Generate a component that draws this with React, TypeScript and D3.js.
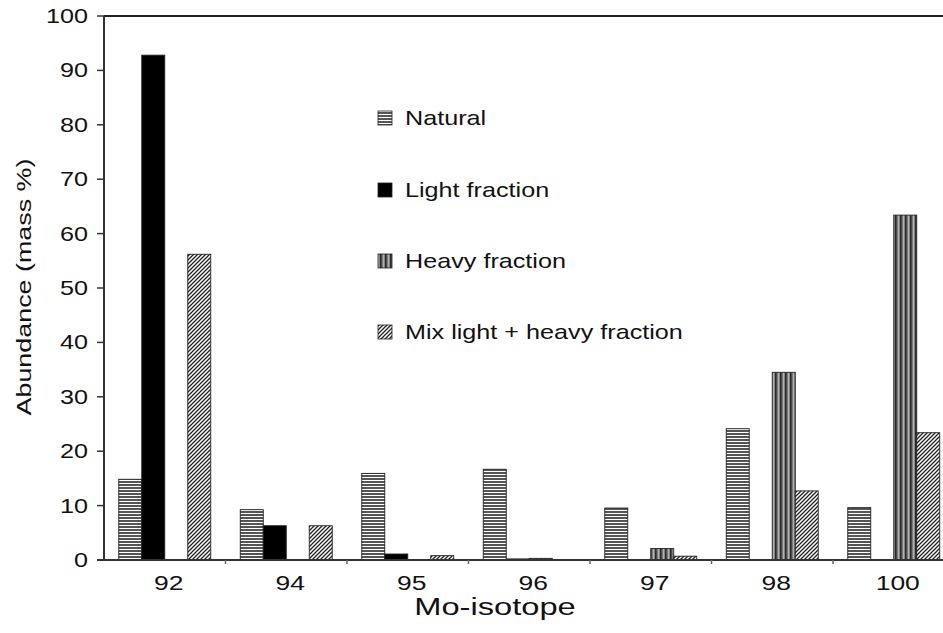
import React from "react";
import { scaleBand, scaleLinear, range } from "d3";

const isotopes = ["92", "94", "95", "96", "97", "98", "100"];
const seriesNames = ["Natural", "Light fraction", "Heavy fraction", "Mix light + heavy fraction"];
const natural = [14.84, 9.25, 15.92, 16.68, 9.55, 24.13, 9.63];
const light = [92.8, 6.3, 1.1, 0.2, 0, 0, 0];
const heavy = [0, 0, 0, 0.3, 2.1, 34.5, 63.4];
const mix = [56.2, 6.3, 0.8, 0.1, 0.7, 12.7, 23.4];
const yTicks = [0, 10, 20, 30, 40, 50, 60, 70, 80, 90, 100];

const fills = ["url(#natural)", "#000", "url(#heavy)", "url(#mix)"];
const font = "'Liberation Sans', Arial, sans-serif";
const sx = 1.26; // glyphs in the reference are wide

const App = () => {
  const width = 943;
  const height = 633;
  const left = 104;
  const top = 16;
  const bottom = 560;

  const values = [natural, light, heavy, mix];

  const x = scaleBand<string>()
    .domain(isotopes)
    .range([left, 954.5])
    .paddingInner(0.243)
    .paddingOuter(0.1215);

  const xs = scaleBand<string>()
    .domain(seriesNames)
    .range([0, x.bandwidth()]);

  const y = scaleLinear().domain([0, 100]).range([bottom, top]);

  const step = x.step();
  const bounds = range(0, isotopes.length + 1).map((i) => left + i * step);

  const bars = isotopes.map((iso, i) => (
    <g key={iso}>
      {seriesNames.map((s, j) => {
        const v = values[j][i];
        if (v <= 0) return null;
        return (
          <rect
            key={s}
            x={(x(iso) as number) + (xs(s) as number)}
            y={y(v)}
            width={xs.bandwidth()}
            height={bottom - y(v)}
            fill={fills[j]}
            stroke="#222"
            strokeWidth={0.9}
          />
        );
      })}
    </g>
  ));

  const legendY = [118, 190, 261, 332];

  return (
    <svg
      width={width}
      height={height}
      viewBox={`0 0 ${width} ${height}`}
      style={{ position: "absolute", left: 0, top: 0, background: "#fff" }}
      fontFamily={font}
    >
      <defs>
        <pattern id="natural" patternUnits="userSpaceOnUse" width={4} height={3}>
          <rect width={4} height={3} fill="#555" />
          <rect y={0} width={4} height={1} fill="#fff" />
        </pattern>
        <pattern id="heavy" patternUnits="userSpaceOnUse" width={5} height={4}>
          <rect width={5} height={4} fill="#7a7a7a" />
          <rect x={0} width={1.6} height={4} fill="#2a2a2a" />
          <rect x={3.2} width={1} height={4} fill="#bdbdbd" />
        </pattern>
        <pattern id="mix" patternUnits="userSpaceOnUse" width={4} height={4}>
          <rect width={4} height={4} fill="#fff" />
          <path d="M-1,1 l2,-2 M0,4 l4,-4 M3,5 l2,-2" stroke="#222" strokeWidth={1.3} />
        </pattern>
      </defs>

      {/* frame */}
      <line x1={left} x2={width} y1={top} y2={top} stroke="#222" strokeWidth={2} />
      <line x1={left} x2={left} y1={top} y2={bottom} stroke="#333" strokeWidth={2} />

      {bars}

      <line x1={97} x2={width} y1={bottom} y2={bottom} stroke="#333" strokeWidth={2} />

      {/* y ticks */}
      {yTicks.map((t) => (
        <g key={t}>
          <line x1={97} x2={left} y1={y(t)} y2={y(t)} stroke="#333" strokeWidth={1.5} />
          <text
            transform={`translate(88,${y(t)}) scale(${sx},1)`}
            textAnchor="end"
            dominantBaseline="central"
            fontSize={20}
            fill="#111"
          >
            {t}
          </text>
        </g>
      ))}

      {/* x ticks */}
      {bounds.slice(1).map((b, i) => (
        <line key={i} x1={b} x2={b} y1={bottom} y2={bottom + 4} stroke="#666" strokeWidth={1.5} />
      ))}
      {isotopes.map((iso) => (
        <text
          key={iso}
          transform={`translate(${(x(iso) as number) + x.bandwidth() / 2 + 4},583) scale(${sx},1)`}
          textAnchor="middle"
          dominantBaseline="central"
          fontSize={21}
          fill="#111"
        >
          {iso}
        </text>
      ))}

      <text
        transform={`translate(495,607) scale(1.42,1)`}
        textAnchor="middle"
        dominantBaseline="central"
        fontSize={23}
        fill="#111"
      >
        Mo-isotope
      </text>

      <text
        transform={`translate(24,287) rotate(-90) scale(1.28,1)`}
        textAnchor="middle"
        dominantBaseline="central"
        fontSize={21}
        fill="#111"
      >
        Abundance (mass %)
      </text>

      {/* legend */}
      {seriesNames.map((s, j) => (
        <g key={s}>
          <rect
            x={378}
            y={legendY[j] - 7}
            width={14}
            height={14}
            fill={fills[j]}
            stroke="#222"
            strokeWidth={0.8}
          />
          <text
            transform={`translate(405,${legendY[j]}) scale(${sx},1)`}
            dominantBaseline="central"
            fontSize={20}
            fill="#111"
          >
            {s}
          </text>
        </g>
      ))}
    </svg>
  );
};

export default App;
